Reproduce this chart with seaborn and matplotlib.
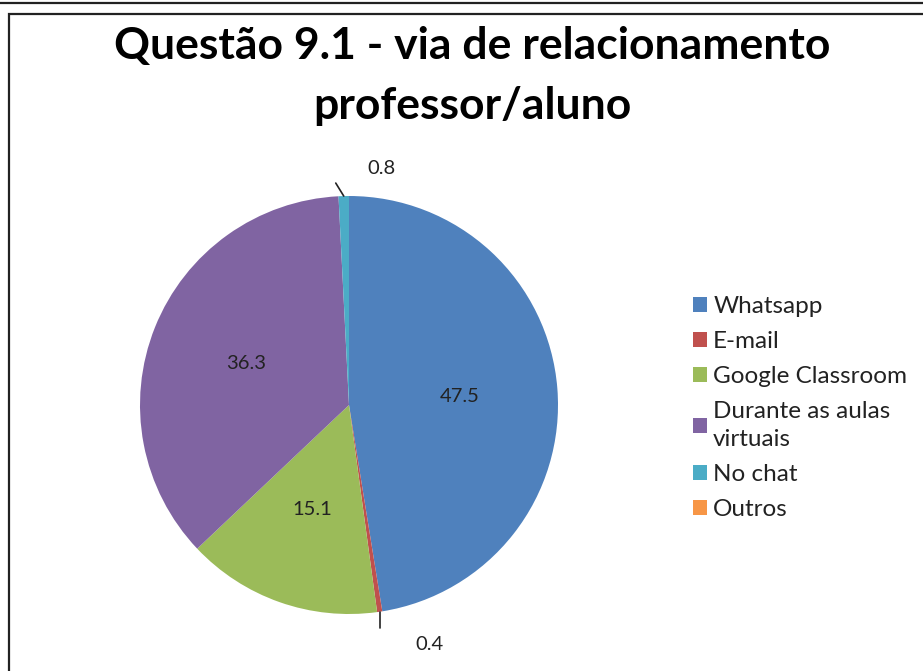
import numpy as np
import matplotlib
matplotlib.use('Agg')
import matplotlib.pyplot as plt
from matplotlib.patches import Rectangle
from matplotlib.lines import Line2D
import seaborn as sns

categories = ['Whatsapp', 'E-mail', 'Google Classroom', 'Durante as aulas\nvirtuais', 'No chat', 'Outros']
values = [47.5, 0.4, 15.1, 36.3, 0.8, 0.0]
colors = ['#4F81BD', '#C0504D', '#9BBB59', '#8064A2', '#4BACC6', '#F79646']
title = 'Questão 9.1 - via de relacionamento\nprofessor/aluno'

sns.set_style('white')
plt.rcParams['font.family'] = ['Lato', 'DejaVu Sans']

fig = plt.figure(figsize=(9.23, 6.71), dpi=100)
W, H = 923, 671

# frame lines (top strip of previous chart + this chart's border)
fig.add_artist(Line2D([0, 1], [1 - 3 / H, 1 - 3 / H], color='#222222', lw=1.6, transform=fig.transFigure))
fig.add_artist(Rectangle((9 / W, -0.05), 1.2, 1 - 14 / H + 0.05, transform=fig.transFigure,
                         fill=False, edgecolor='#222222', lw=1.6))

# pie axes: center (349, 405), radius 209
r = 209
ax = fig.add_axes([(349 - r) / W, (H - 405 - r) / H, 2 * r / W, 2 * r / H])
wedges, _ = ax.pie(values, colors=colors, startangle=90, counterclock=False,
                   wedgeprops=dict(linewidth=0), radius=1.0)
ax.set_xlim(-1, 1)
ax.set_ylim(-1, 1)
ax.set_aspect('auto')
ax.axis('off')

fs = 14.5
# offsets (pixels) for small-slice labels: leader end and text position
small = {1: ((0, -16), (50, -33)), 4: ((-8, 13), (38, 28))}
for i, (w, v) in enumerate(zip(wedges, values)):
    if v <= 0:
        continue
    mid = np.deg2rad((w.theta1 + w.theta2) / 2)
    ex, ey = np.cos(mid), np.sin(mid)
    if i in small:
        (lx, ly), (tx, ty) = small[i]
        ax.plot([ex, ex + lx / r], [ey, ey + ly / r], color='#222222', lw=1.2, clip_on=False)
        ax.text(ex + tx / r, ey + ty / r, f'{v}', ha='center', va='center', fontsize=fs, color='#222222')
    else:
        ax.text(0.53 * ex, 0.53 * ey, f'{v}', ha='center', va='center', fontsize=fs, color='#222222')

fig.text(472 / W, 1 - 76 / H, title, ha='center', va='center', fontsize=32, fontweight='bold',
         color='black', linespacing=1.6)

handles = [Rectangle((0, 0), 1, 1, facecolor=c, edgecolor='none') for c in colors]
leg = fig.legend(handles, categories, loc='center left', bbox_to_anchor=(693 / W, 1 - 408 / H),
                 frameon=False, fontsize=17.5, handlelength=0.58, handleheight=0.58,
                 handletextpad=0.25, labelspacing=0.57, borderaxespad=0, borderpad=0)
for t in leg.get_texts():
    t.set_color('#222222')
    t.set_linespacing(1.45)

fig.savefig('out.png', dpi=100)
